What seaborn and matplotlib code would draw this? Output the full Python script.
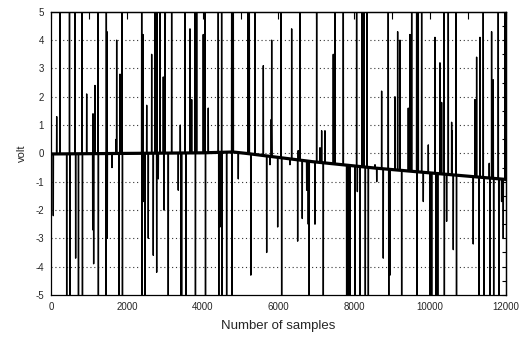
import numpy as np
import pandas as pd
import matplotlib
matplotlib.use('Agg')
import matplotlib.pyplot as plt
import seaborn as sns

# slow drift of the baseline (sample index, volt)
baseline_samples = [0, 2000, 4000, 4800, 5150, 6880, 8560, 10260, 12000]
baseline_volts = [-0.02, 0.0, 0.02, 0.05, 0.0, -0.29, -0.52, -0.72, -0.92]

# spikes; +-7 means the spike leaves the plotted range
spike_samples = [61, 150, 237, 414, 488, 500, 633, 650, 725, 817, 830, 941, 1100, 1108, 1125,
                 1160, 1239, 1250, 1450, 1460, 1475, 1485, 1609, 1720, 1732, 1793, 1820, 1872,
                 1885, 2392, 2400, 2426, 2440, 2479, 2524, 2566, 2655, 2698, 2742, 2787, 2795,
                 2830, 2874, 2962, 2975, 3006, 3093, 3182, 3357, 3410, 3430, 3445, 3535, 3560,
                 3665, 3710, 3797, 3810, 3842, 4016, 4061, 4075, 4148, 4412, 4425, 4456, 4500,
                 4512, 4632, 4765, 4778, 4808, 4940, 5195, 5230, 5270, 5380, 5600, 5688, 5775,
                 5810, 5820, 5978, 6070, 6083, 6302, 6347, 6505, 6520, 6566, 6627, 6743, 6785,
                 6810, 6962, 7006, 7094, 7138, 7182, 7225, 7445, 7489, 7709, 7797, 7840, 7885,
                 8016, 8060, 8080, 8150, 8200, 8250, 8290, 8330, 8370, 8545, 8590, 8720, 8763,
                 8895, 8908, 8940, 9071, 9142, 9203, 9248, 9423, 9467, 9512, 9643, 9655, 9687,
                 9775, 9819, 9951, 10000, 10040, 10126, 10150, 10200, 10258, 10302, 10363, 10375,
                 10434, 10478, 10566, 10580, 10610, 10680, 10695, 11136, 11181, 11225, 11286,
                 11313, 11400, 11420, 11558, 11576, 11620, 11664, 11675, 11796, 11810, 11884,
                 11928, 11972]
spike_volts = [-2.2, 1.3, 7, -7, 7, -7, 7, -3.7, -7, 7, -7, 2.1, -2.7, 1.4, -3.9,
               2.4, 7, -7, -7, 7, 4.3, -3.0, -0.5, 0.5, 4.0, -7, 2.8, 7,
               -7, 7, -7, 4.2, -1.7, -7, 1.7, -3.0, 3.5, -3.6, 7, -4.2, 7,
               -0.9, 7, 2.7, -2.0, 7, -7, 7, -1.3, 1.0, -7, -7, 7, -7,
               4.4, 1.9, 7, -7, 7, 4.2, 7, -7, 1.6, 7, -7, -2.6, 7,
               -7, -7, 7, -7, 7, -0.9, 7, 7, -4.3, 7, 3.1, -3.5, -0.4,
               1.2, 4.0, -2.6, 7, -7, -0.4, 4.4, -3.1, 0.1, 7, -2.3, -1.3, -2.5,
               -7, -2.5, 7, 0.2, 0.8, -7, 0.8, 3.5, 7, 7, -7, -7, -7,
               -7, 7, -1.35, -7, 7, 7, -7, 7, -7, -0.4, -1.0, 2.2, -3.7,
               7, -7, -4.3, 2.0, 4.3, 4.0, -7, 1.6, 4.2, 7, 7, -7, 7,
               7, -1.7, 0.3, -7, -7, 4.1, -7, -7, 3.2, 1.8, 7, -7,
               -2.4, 7, 1.1, 0.8, -3.4, 7, -7, -3.2, 1.9, 3.4, -7,
               4.1, 7, -7, -0.35, -7, 4.3, 2.6, -7, 7, -7, -1.7,
               -3.0, 7]

x_ticks = [0, 2000, 4000, 6000, 8000, 10000, 12000]
y_ticks = [-5, -4, -3, -2, -1, 0, 1, 2, 3, 4, 5]

# build the trace: baseline -> spike -> baseline
xs, ys = [0], [baseline_volts[0]]
for s, v in zip(spike_samples, spike_volts):
    foot = np.interp(s, baseline_samples, baseline_volts)
    xs += [s - 4, s, s + 4]
    ys += [foot, v, foot]
xs.append(12000)
ys.append(baseline_volts[-1])
trace = pd.DataFrame({'sample': xs, 'volt': ys})
base = pd.DataFrame({'sample': baseline_samples, 'volt': baseline_volts})

sns.set_theme(style='white')
plt.rcParams['font.family'] = ['Liberation Sans', 'DejaVu Sans']
plt.rcParams['axes.unicode_minus'] = False

fig = plt.figure(figsize=(5.23, 3.39), dpi=100)
ax = fig.add_axes([0.0975, 0.13, 0.87, 0.835])

sns.lineplot(data=trace, x='sample', y='volt', ax=ax, color='black', lw=1.0,
             sort=False, estimator=None)
sns.lineplot(data=base, x='sample', y='volt', ax=ax, color='black', lw=2.3,
             sort=False, estimator=None)

ax.set_xlim(0, 12000)
ax.set_ylim(-5, 5)
ax.set_xticks(x_ticks)
ax.set_xticks(range(0, 12001, 1000), minor=True)
ax.set_yticks(y_ticks)
ax.set_yticks(np.arange(-5, 5.01, 0.5), minor=True)
ax.set_yticklabels([str(t) for t in y_ticks])

for t in y_ticks[1:-1]:
    ax.axhline(t, color='#333333', lw=0.8, ls=(0, (1, 2.5)), zorder=0)

ax.tick_params(axis='x', which='both', direction='out', length=3, width=0.8,
               labelsize=7, pad=2, color='black')
ax.tick_params(axis='y', which='major', direction='out', length=3, width=0.8,
               labelsize=7, pad=2, color='black')
ax.tick_params(axis='y', which='minor', direction='in', length=3, width=0.8, color='black')

top = ax.secondary_xaxis('top')
top.set_xticks(range(0, 12001, 1000))
top.tick_params(direction='in', length=5, width=0.8, labeltop=False, color='black')
right = ax.secondary_yaxis('right')
right.set_yticks(np.arange(-5, 5.01, 0.5))
right.tick_params(direction='in', length=3, width=0.8, labelright=False, color='black')

for sp in list(ax.spines.values()) + list(top.spines.values()) + list(right.spines.values()):
    sp.set_color('black')
    sp.set_linewidth(0.9)

ax.set_xlabel('Number of samples', fontsize=9.5, labelpad=6)
ax.set_ylabel('volt', fontsize=8, labelpad=6)

fig.savefig('out.png', dpi=100)
